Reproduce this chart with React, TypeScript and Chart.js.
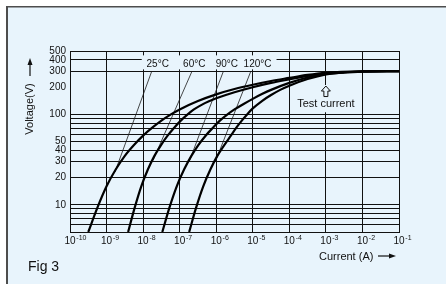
import React, { useEffect, useRef } from "react";
import { Chart, registerables } from "chart.js";

Chart.register(...registerables);

// ---------------- data ----------------
const xDecades = [-10, -9, -8, -7, -6, -5, -4, -3, -2, -1];
const yTickValues = [5, 6, 7, 8, 9, 10, 20, 30, 40, 50, 60, 70, 80, 90, 100, 200, 300, 400, 500];
const yLabelValues = [10, 20, 30, 40, 50, 100, 200, 300, 400, 500];
const yNoGridValues = [200];

const temps = ["25°C", "60°C", "90°C", "120°C"];

// log10 of current (A) and voltage (V)
const logI25 = [-9.5, -9.25, -9, -8.75, -8.5, -8.25, -8, -7.75, -7.5, -7.25, -7, -6.5, -6, -5.5, -5, -4.5, -4, -3.5, -3, -2, -1];
const volt25 = [5, 9.3, 16, 24.5, 34.7, 45.7, 58, 71, 85, 99, 113, 140, 166, 190, 212, 233, 252, 272, 287, 298, 300];

const logI60 = [-8.41, -8.23, -8.05, -7.87, -7.69, -7.51, -7.33, -7.15, -6.97, -6.79, -6.61, -6.4, -6.2, -6, -5.5, -5, -4.5, -4, -3.5, -3, -2, -1];
const volt60 = [5, 9.3, 16, 24.5, 34.7, 45.7, 58, 71, 85, 99, 113, 127, 139, 150, 175, 199, 222, 243, 265, 283, 297, 300];

const logI90 = [-7.475, -7.28, -7.08, -6.88, -6.68, -6.49, -6.29, -6.09, -5.9, -5.7, -5.5, -5.25, -5, -4.75, -4.5, -4, -3.5, -3, -2, -1];
const volt90 = [5, 9.3, 16, 24.5, 34.7, 45.7, 58, 71, 85, 99, 113, 130, 148, 167, 186, 222, 255, 279, 296, 300];

const logI120 = [-6.74, -6.55, -6.355, -6.16, -5.97, -5.78, -5.6, -5.45, -5.3, -5.15, -5, -4.75, -4.5, -4.25, -4, -3.5, -3, -2.5, -2, -1];
const volt120 = [5, 9.3, 16, 24.5, 34.7, 45.7, 58, 71, 85, 100, 116, 140, 163, 186, 207, 245, 276, 291, 297, 300];

// temperature labels (log10 I, V at label centre)
const labelLogI = [-7.6, -6.6, -5.71, -4.87];
const labelVolt = 356;
// leader lines: start (log I, V) -> end (log I, V)
const leaderStartLogI = [-7.77, -6.67, -5.81, -5.06];
const leaderStartVolt = 294;
const leaderEndLogI = [-8.77, -7.73, -6.74, -6.01];
const leaderEndVolt = [23, 31, 30, 31];

// test current marker
const testCurrentLogI = -3;
const testCurrentArrowVolt = 205;
const testCurrentTextVolt = 129;
const testCurrentLabel = "Test current";

const xTitle = "Current (A)";
const yTitle = "Voltage(V)";
const figLabel = "Fig 3";

// ---------------- styles ----------------
const FONT = "'Liberation Sans', Arial, Helvetica, sans-serif";
const BG = "#e8f4fc";
const INK = "#111111";

const curves = [
  { name: temps[0], exps: logI25, volts: volt25 },
  { name: temps[1], exps: logI60, volts: volt60 },
  { name: temps[2], exps: logI90, volts: volt90 },
  { name: temps[3], exps: logI120, volts: volt120 },
];

const decorPlugin = {
  id: "decor",
  beforeDraw(chart: any) {
    const { ctx, width, height } = chart;
    ctx.save();
    ctx.fillStyle = "#ffffff";
    ctx.fillRect(0, 0, width, height);
    ctx.fillStyle = BG;
    ctx.fillRect(7, 7, width - 7, height - 7);
    ctx.fillStyle = "#4d4d4d";
    ctx.fillRect(6, 6, width - 6, 1.5);
    ctx.fillRect(6, 6, 2, height - 6);
    ctx.restore();
  },
  beforeDatasetsDraw(chart: any) {
    const { ctx } = chart;
    const xs = chart.scales.x;
    const ys = chart.scales.y;
    const px = (e: number) => xs.getPixelForValue(Math.pow(10, e));
    const py = (v: number) => ys.getPixelForValue(v);
    ctx.save();

    // mask behind temperature labels
    const ly = py(labelVolt);
    const mx0 = px(labelLogI[0]) - 16;
    const mx1 = px(labelLogI[labelLogI.length - 1]) + 19;
    ctx.fillStyle = BG;
    ctx.fillRect(mx0, ly - 9, mx1 - mx0, 14);

    // mask behind test current
    const tx = px(testCurrentLogI);
    const ay = py(testCurrentArrowVolt);
    const ty = py(testCurrentTextVolt);
    ctx.fillRect(tx - 30, ay - 1, 60, ty + 8 - (ay - 1));

    // leader lines
    ctx.strokeStyle = "#1a1a1a";
    ctx.lineWidth = 0.8;
    for (let i = 0; i < temps.length; i++) {
      ctx.beginPath();
      ctx.moveTo(px(leaderStartLogI[i]), py(leaderStartVolt));
      ctx.lineTo(px(leaderEndLogI[i]), py(leaderEndVolt[i]));
      ctx.stroke();
    }

    // temperature labels
    ctx.fillStyle = INK;
    ctx.font = `10px ${FONT}`;
    ctx.textAlign = "center";
    ctx.textBaseline = "middle";
    for (let i = 0; i < temps.length; i++) {
      ctx.fillText(temps[i], px(labelLogI[i]), ly);
    }

    // test current hollow arrow
    ctx.strokeStyle = INK;
    ctx.lineWidth = 1;
    ctx.beginPath();
    ctx.moveTo(tx, ay);
    ctx.lineTo(tx + 4.5, ay + 5);
    ctx.lineTo(tx + 2, ay + 5);
    ctx.lineTo(tx + 2, ay + 10.5);
    ctx.lineTo(tx - 2, ay + 10.5);
    ctx.lineTo(tx - 2, ay + 5);
    ctx.lineTo(tx - 4.5, ay + 5);
    ctx.closePath();
    ctx.stroke();
    ctx.font = `11px ${FONT}`;
    ctx.fillText(testCurrentLabel, tx, ty);
    ctx.restore();
  },
  afterDraw(chart: any) {
    const { ctx } = chart;
    const xs = chart.scales.x;
    const bottom = chart.chartArea.bottom;
    ctx.save();
    ctx.fillStyle = INK;
    ctx.strokeStyle = INK;

    // x tick labels: 10 with superscript exponent
    for (const e of xDecades) {
      const x = xs.getPixelForValue(Math.pow(10, e));
      ctx.font = `10px ${FONT}`;
      ctx.textAlign = "center";
      ctx.textBaseline = "alphabetic";
      const w = ctx.measureText("10").width;
      ctx.fillText("10", x, bottom + 12);
      ctx.font = `7px ${FONT}`;
      ctx.textAlign = "left";
      ctx.fillText(`-${-e}`, x + w / 2 + 0.8, bottom + 7.5);
    }

    // x title + arrow
    ctx.font = `11px ${FONT}`;
    ctx.textAlign = "left";
    ctx.textBaseline = "middle";
    ctx.fillText(xTitle, 319, 257);
    ctx.lineWidth = 1.2;
    ctx.beginPath();
    ctx.moveTo(378, 256);
    ctx.lineTo(391, 256);
    ctx.stroke();
    ctx.beginPath();
    ctx.moveTo(396, 256);
    ctx.lineTo(389, 253.5);
    ctx.lineTo(389, 258.5);
    ctx.closePath();
    ctx.fill();

    // y title + arrow
    ctx.save();
    ctx.translate(30, 109);
    ctx.rotate(-Math.PI / 2);
    ctx.textAlign = "center";
    ctx.textBaseline = "middle";
    ctx.font = `11px ${FONT}`;
    ctx.fillText(yTitle, 0, 0);
    ctx.restore();
    ctx.beginPath();
    ctx.moveTo(30, 76);
    ctx.lineTo(30, 63);
    ctx.stroke();
    ctx.beginPath();
    ctx.moveTo(30, 58);
    ctx.lineTo(27.5, 65);
    ctx.lineTo(32.5, 65);
    ctx.closePath();
    ctx.fill();

    // figure label
    ctx.font = `14px ${FONT}`;
    ctx.textAlign = "left";
    ctx.textBaseline = "alphabetic";
    ctx.fillText(figLabel, 28, 271);
    ctx.restore();
  },
};

export default function App() {
  const ref = useRef<HTMLCanvasElement>(null);
  useEffect(() => {
    const canvas = ref.current!;
    const chart = new Chart(canvas, {
      type: "line",
      data: {
        datasets: curves.map((c) => ({
          label: c.name,
          data: c.exps.map((e, i) => ({ x: Math.pow(10, e), y: c.volts[i] })),
          borderColor: "#000000",
          borderWidth: 2.2,
          pointRadius: 0,
          fill: false,
          cubicInterpolationMode: "monotone" as const,
        })),
      },
      options: {
        responsive: false,
        animation: false,
        devicePixelRatio: 1,
        events: [],
        layout: { padding: { left: 0, top: 51, right: 47, bottom: 32 } },
        plugins: { legend: { display: false }, tooltip: { enabled: false } },
        scales: {
          x: {
            type: "logarithmic",
            min: 1e-10,
            max: 1e-1,
            afterBuildTicks: (s: any) => {
              s.ticks = xDecades.map((e) => ({ value: Math.pow(10, e) }));
            },
            afterFit: (s: any) => {
              s.height = 20;
            },
            ticks: { display: false },
            grid: { color: INK, lineWidth: 1, drawTicks: false },
            border: { display: true, color: INK, width: 1 },
          },
          y: {
            type: "logarithmic",
            min: 5,
            max: 500,
            afterBuildTicks: (s: any) => {
              s.ticks = yTickValues.map((v) => ({ value: v }));
            },
            afterFit: (s: any) => {
              s.width = 70;
            },
            ticks: {
              autoSkip: false,
              padding: 4,
              color: INK,
              font: { family: FONT, size: 10 },
              callback: (v: any) => (yLabelValues.includes(Number(v)) ? String(v) : ""),
            },
            grid: {
              drawTicks: false,
              lineWidth: 1,
              color: (c: any) =>
                c.tick && yNoGridValues.includes(c.tick.value) ? "rgba(0,0,0,0)" : INK,
            },
            border: { display: true, color: INK, width: 1 },
          },
        },
      },
      plugins: [decorPlugin],
    } as any);
    return () => chart.destroy();
  }, []);
  return (
    <div style={{ position: "fixed", left: 0, top: 0, width: 446, height: 284 }}>
      <canvas ref={ref} width={446} height={284} style={{ display: "block" }} />
    </div>
  );
}
